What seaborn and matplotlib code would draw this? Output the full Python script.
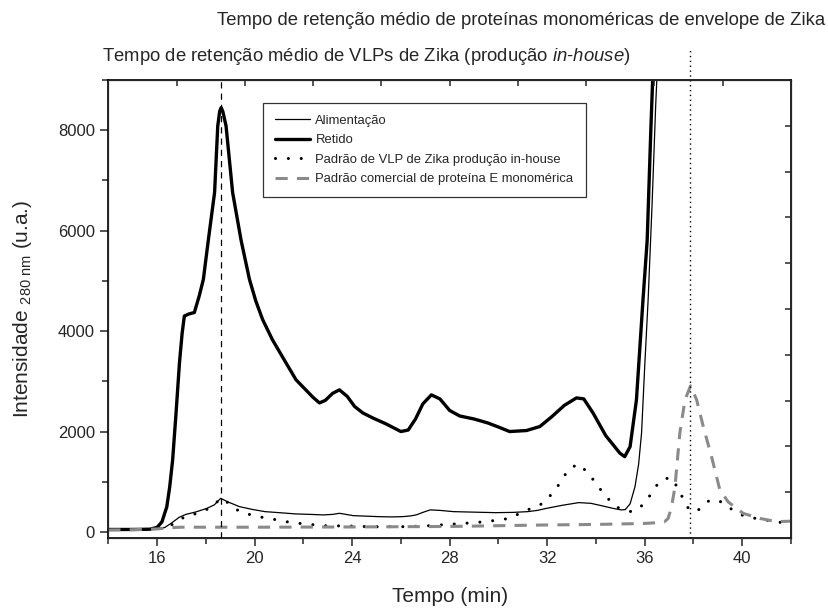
import numpy as np
import matplotlib
matplotlib.use("Agg")
import matplotlib.pyplot as plt
from matplotlib.ticker import MultipleLocator
import seaborn as sns

# Alimentação (linha fina)
tempo_alim = [14.0, 15.0, 15.8, 16.1, 16.32, 16.6, 16.9, 17.18, 17.6, 18.04, 18.35, 18.61, 18.9,
              19.38, 19.9, 20.43, 21.0, 21.67, 22.3, 22.81, 23.2, 23.48, 23.75, 24.05, 24.6, 25.1,
              25.6, 26.06, 26.4, 26.63, 26.9, 27.2, 27.6, 28.16, 29.0, 29.87, 30.6, 31.2, 31.6,
              31.97, 32.6, 33.3, 33.8, 34.26, 34.7, 35.03, 35.2, 35.4, 35.6, 35.75, 35.87, 36.0,
              36.14, 36.3, 36.45, 36.55]
int_alim = [50, 50, 55, 65, 90, 180, 290, 350, 400, 470, 540, 670, 600,
            505, 450, 405, 385, 360, 350, 340, 350, 372, 350, 325, 315, 305,
            300, 305, 320, 340, 390, 440, 430, 405, 395, 385, 390, 405, 430,
            470, 530, 585, 570, 520, 470, 440, 445, 560, 900, 1350, 1970, 3300,
            4630, 6500, 8500, 9600]

# Retido (linha grossa)
tempo_ret = [14.0, 15.0, 15.7, 16.0, 16.2, 16.4, 16.52, 16.64, 16.78, 16.92, 17.03, 17.12, 17.3,
             17.53, 17.73, 17.9, 18.1, 18.36, 18.49, 18.57, 18.63, 18.7, 18.83, 19.1, 19.45,
             19.79, 20.05, 20.33, 20.73, 21.14, 21.7, 22.1, 22.4, 22.66, 22.9, 23.2, 23.48, 23.8,
             24.1, 24.44, 24.85, 25.4, 26.0, 26.3, 26.6, 26.9, 27.25, 27.6, 28.0, 28.41, 29.0,
             29.57, 30.0, 30.46, 31.15, 31.7, 32.2, 32.7, 33.2, 33.5, 33.88, 34.4, 34.98, 35.18,
             35.4, 35.66, 35.93, 36.1, 36.25, 36.4]
int_ret = [50, 50, 55, 90, 200, 500, 900, 1436, 2370, 3370, 3960, 4300, 4340,
           4370, 4700, 5030, 5800, 6760, 8085, 8380, 8450, 8370, 8085, 6760, 5800,
           5030, 4600, 4230, 3830, 3490, 3030, 2830, 2680, 2570, 2620, 2760, 2830, 2700,
           2500, 2370, 2270, 2150, 2000, 2030, 2250, 2550, 2730, 2650, 2420, 2310, 2250,
           2170, 2090, 2000, 2020, 2100, 2300, 2520, 2670, 2650, 2370, 1920, 1570, 1500,
           1700, 2630, 4630, 5800, 8000, 10000]

# Padrão de VLP de Zika produção in-house (pontilhado)
tempo_vlp = [14.0, 15.0, 15.8, 16.2, 16.7, 17.18, 17.66, 18.14, 18.4, 18.58, 18.96, 19.38, 19.86,
             20.33, 20.81, 21.29, 21.86, 22.81, 23.77, 24.72, 26.06, 27.0, 27.8, 28.54, 29.49,
             30.45, 31.02, 31.4, 31.78, 32.2, 32.55, 32.86, 33.27, 33.68, 34.02, 34.39, 34.77,
             35.05, 35.5, 35.93, 36.28, 36.59, 37.03, 37.37, 37.58, 37.85, 38.26, 38.67, 39.15,
             39.6, 40.04, 40.5, 40.93, 41.3, 41.66, 42.0]
int_vlp = [50, 50, 55, 80, 160, 320, 370, 470, 560, 670, 570, 405, 340,
           290, 250, 205, 170, 125, 120, 105, 105, 120, 145, 170, 205,
           270, 405, 480, 560, 760, 990, 1240, 1355, 1180, 950, 720, 520,
           450, 400, 540, 770, 1000, 1090, 880, 650, 420, 450, 640, 600,
           440, 325, 275, 240, 210, 185, 180]

# Padrão comercial de proteína E monomérica (tracejado cinza)
tempo_prot = [14.0, 15.0, 16.0, 16.5, 17.0, 20.0, 24.0, 28.0, 32.0, 34.0, 36.0, 36.5, 36.8, 36.96,
              37.1, 37.24, 37.44, 37.65, 37.88, 38.13, 38.4, 38.74, 39.08, 39.42, 40.04, 40.72,
              41.41, 41.96]
int_prot = [40, 45, 60, 85, 95, 95, 100, 110, 140, 150, 170, 185, 200, 270,
            500, 900, 1970, 2630, 2910, 2630, 2100, 1500, 840, 600, 370, 270,
            205, 215]

t_vlp_medio = 18.63
t_prot_medio = 37.85

sns.set_style("ticks")
plt.rcParams['font.family'] = ['Liberation Sans', 'DejaVu Sans']
plt.rcParams['mathtext.fontset'] = 'custom'
plt.rcParams['mathtext.rm'] = 'Liberation Sans'
plt.rcParams['mathtext.it'] = 'Liberation Sans:italic'

fig = plt.figure(figsize=(8.29, 6.12), dpi=100)
ax = fig.add_axes([0.1306, 0.1209, 0.8236, 0.7484])

sns.lineplot(x=tempo_alim, y=int_alim, ax=ax, color='black', lw=0.9, label='Alimentação')
sns.lineplot(x=tempo_ret, y=int_ret, ax=ax, color='black', lw=2.4, label='Retido')
sns.lineplot(x=tempo_vlp, y=int_vlp, ax=ax, color='black', lw=2.2, linestyle=(0, (0.01, 4.2)),
             dash_capstyle='round', label='Padrão de VLP de Zika produção in-house')
sns.lineplot(x=tempo_prot, y=int_prot, ax=ax, color='#8a8a8a', lw=2.2, linestyle=(0, (4, 3)),
             label='Padrão comercial de proteína E monomérica')

ax.axvline(t_vlp_medio, color='black', lw=0.9, linestyle=(0, (5, 4)))
ax.axvline(t_prot_medio, ymin=0, ymax=1.07, clip_on=False, color='black', lw=1.0,
           linestyle=(0, (1, 2.5)))

ax.set_xlim(14, 42)
ax.set_ylim(-120, 9000)
ax.set_xticks(range(16, 41, 4))
ax.xaxis.set_minor_locator(MultipleLocator(2))
ax.set_yticks(range(0, 8001, 2000))
ax.yaxis.set_minor_locator(MultipleLocator(1000))
ax.tick_params(which='major', length=6, width=1.1, labelsize=12, direction='out')
ax.tick_params(which='minor', length=4, width=1.1, direction='out')
for s in ax.spines.values():
    s.set_linewidth(1.2)
    s.set_color('black')

ax.set_xlabel('Tempo (min)', fontsize=15, labelpad=15)
ax.set_ylabel(r'Intensidade $_{\mathregular{280\ nm}}$ (u.a.)', fontsize=15, labelpad=17)

# ticks internos no topo e à direita
ax_top = ax.twiny()
ax_top.set_xlim(0, 1)
ax_top.set_xticks(np.arange(0.1, 0.95, 0.1))
ax_top.tick_params(axis='x', direction='in', length=4, width=1.1, labeltop=False)
ax_right = ax.twinx()
ax_right.set_ylim(0, 1)
ax_right.set_yticks(np.arange(0.1, 0.95, 0.1))
ax_right.tick_params(axis='y', direction='in', length=4, width=1.1, labelright=False)

leg = ax.legend(loc='upper left', bbox_to_anchor=(0.2266, 0.95), borderaxespad=0,
                fontsize=9.4, handlelength=2.7, handletextpad=0.4, labelspacing=0.56,
                borderpad=0.92, fancybox=False, frameon=True)
leg.get_frame().set_edgecolor('black')
leg.get_frame().set_linewidth(0.9)

fig.text(0.995, 0.967, 'Tempo de retenção médio de proteínas monoméricas de envelope de Zika',
         ha='right', va='center', fontsize=13.3)
fig.text(0.123, 0.907, r'Tempo de retenção médio de VLPs de Zika (produção $\it{in}$-$\it{house}$)',
         ha='left', va='center', fontsize=13.3)

fig.savefig('out.png', dpi=100)
